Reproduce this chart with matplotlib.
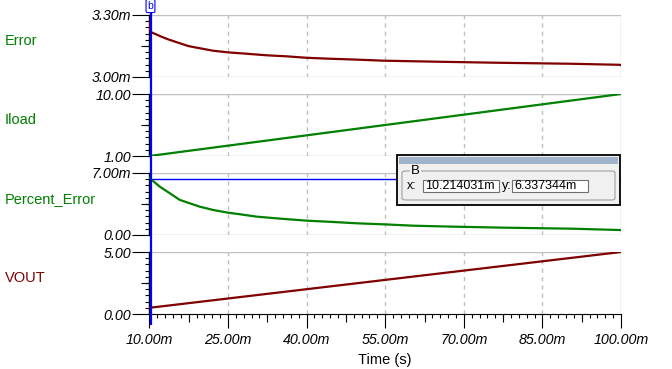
import matplotlib
matplotlib.use("Agg")
from matplotlib import pyplot as plt
from matplotlib.patches import Rectangle, FancyBboxPatch
from matplotlib.ticker import AutoMinorLocator

plt.rcParams['font.family'] = ['Liberation Sans', 'DejaVu Sans']

# data (time in ms)
t_err = [10, 10.2, 10.4, 12.3, 13.6, 14.9, 16.2, 17.4, 19.0, 22.2, 25.1, 27.3, 32.4,
         36.2, 40, 43.8, 49.6, 54.6, 64.8, 76.3, 90.6, 99.8, 100]
error_mv = [3.27, 3.222, 3.216, 3.195, 3.182, 3.171, 3.160, 3.150, 3.142, 3.127, 3.119,
            3.115, 3.105, 3.100, 3.093, 3.089, 3.084, 3.079, 3.074, 3.069, 3.064,
            3.059, 3.057]

t_lin = [10, 100]
iload = [1.0, 10.0]
vout = [0.5, 5.0]

t_pct = [10, 10.2, 12.0, 13.9, 15.8, 17.7, 19.6, 22.2, 25, 27.3, 30.5, 34.9, 40, 45.1,
         49.6, 55.3, 60.4, 68, 77.5, 90.9, 99.8, 100]
pct_m = [6.45, 6.34, 5.45, 4.71, 3.96, 3.58, 3.20, 2.82, 2.52, 2.34, 2.07, 1.85, 1.62,
         1.47, 1.32, 1.19, 1.05, 0.94, 0.83, 0.71, 0.56, 0.55]

xticks = [10, 25, 40, 55, 70, 85, 100]
xlabels = ['10.00m', '25.00m', '40.00m', '55.00m', '70.00m', '85.00m', '100.00m']

cursor_x = 10.214031
cursor_y = 6.337344

names = ['Error', 'Iload', 'Percent_Error', 'VOUT']
name_colors = ['#008000', '#008000', '#008000', '#800000']
ylims = [(3.0, 3.3), (1.0, 10.0), (0.0, 7.0), (0.0, 5.0)]
ylabels = [('3.00m', '3.30m'), ('1.00', '10.00'), ('0.00', '7.00m'), ('0.00', '5.00')]
series = [(t_err, error_mv, '#800000'), (t_lin, iload, '#008000'),
          (t_pct, pct_m, '#008000'), (t_lin, vout, '#800000')]

W, H = 672, 369
fig = plt.figure(figsize=(W / 100, H / 100), dpi=100)


def fx(x):
    return x / W


def fy(y):
    return 1 - y / H


left, right = 149.4, 621
tops = [15, 94, 173, 252]
ph = 62
grey = '#c0c0c0'

for i in range(4):
    top = tops[i]
    ax = fig.add_axes([fx(left), fy(top + ph), fx(right - left), ph / H])
    x, y, c = series[i]
    ax.plot(x, y, color=c, lw=1.6, zorder=3)
    ax.set_xlim(10, 100)
    ax.set_ylim(*ylims[i])
    for s in ['top', 'right', 'bottom']:
        ax.spines[s].set_visible(False)
    ax.spines['left'].set_color('black')
    ax.spines['left'].set_linewidth(1)
    ax.set_yticks(list(ylims[i]), labels=list(ylabels[i]))
    ax.yaxis.set_minor_locator(AutoMinorLocator(10))
    ax.tick_params(axis='y', which='major', length=12, width=0.8, pad=1,
                   labelsize=10.3, colors='black')
    ax.tick_params(axis='y', which='minor', length=3, width=0.8)
    for lab in ax.get_yticklabels():
        lab.set_fontstyle('italic')
    sec = ax.secondary_yaxis('left')
    sec.set_yticks([sum(ylims[i]) / 2])
    sec.tick_params(length=6, width=0.8, labelleft=False)
    sec.spines['left'].set_visible(False)

    ax.axhline(ylims[i][1], color=grey, lw=1, zorder=1)
    if i < 3:
        ax.axhline(ylims[i][0], color=grey, lw=1, zorder=1)
    for t in xticks[1:-1]:
        ax.axvline(t, color=grey, lw=1, ls=(0, (3, 3)), zorder=1)
    ax.axvline(xticks[-1], color=grey, lw=1, zorder=1)

    if i < 3:
        ax.set_xticks([])
    else:
        ax.spines['bottom'].set_visible(True)
        ax.spines['bottom'].set_color('black')
        ax.set_xticks(xticks, labels=xlabels)
        ax.xaxis.set_minor_locator(AutoMinorLocator(10))
        ax.tick_params(axis='x', which='major', length=10, width=0.8, pad=4, labelsize=10.3)
        ax.tick_params(axis='x', which='minor', length=3, width=0.8)
        for lab in ax.get_xticklabels():
            lab.set_fontstyle('italic')
        secx = ax.secondary_xaxis('bottom')
        secx.set_xticks([(a + b) / 2 for a, b in zip(xticks[:-1], xticks[1:])])
        secx.tick_params(length=6, width=0.8, labelbottom=False)
        secx.spines['bottom'].set_visible(False)
        ax.set_xlabel('Time (s)', fontsize=10.5, labelpad=4)
    if i == 2:
        ax.axhline(cursor_y, color='blue', lw=1, zorder=2)
    ax.patch.set_alpha(0)

    fig.text(fx(5), fy(top + 30), names[i], color=name_colors[i], fontsize=10.5,
             va='baseline', ha='left')

# cursor line across all panels
ov = fig.add_axes([fx(left), fy(325), fx(right - left), (325 - 9) / H])
ov.set_xlim(10, 100)
ov.axis('off')
ov.axvline(cursor_x, color='blue', lw=1.6)
fig.text(fx(150.5), fy(6), 'b', color='blue', fontsize=7.5, ha='center', va='center',
         bbox=dict(boxstyle='round,pad=0.15', fc='white', ec='blue', lw=0.8))

# cursor readout box
fig.add_artist(Rectangle((fx(397), fy(205)), fx(223), 50 / H, transform=fig.transFigure,
                         fc='#f0f0f0', ec='black', lw=1.3))
fig.add_artist(Rectangle((fx(399), fy(164)), fx(219), 7 / H, transform=fig.transFigure,
                         fc='#a0b4cc', ec='none'))
fig.add_artist(FancyBboxPatch((fx(402), fy(200)), fx(213), 29 / H, transform=fig.transFigure,
                              boxstyle='round,pad=0,rounding_size=0.005',
                              fc='none', ec='#a0a0a0', lw=0.8))
fig.text(fx(411), fy(171.5), 'B', fontsize=9.5, va='center', ha='left',
         bbox=dict(fc='#f0f0f0', ec='none', pad=0.5))
fig.text(fx(407), fy(185.7), 'x:', fontsize=9, va='center', ha='left')
fig.text(fx(502), fy(185.7), 'y:', fontsize=9, va='center', ha='left')
for x0, txt in [(423, '10.214031m'), (511.5, '6.337344m')]:
    fig.add_artist(Rectangle((fx(x0), fy(192)), fx(76), 12.5 / H, transform=fig.transFigure,
                             fc='white', ec='#707070', lw=0.8))
    fig.text(fx(x0 + 2.5), fy(185.7), txt, fontsize=9, va='center', ha='left')

fig.savefig('out.png', dpi=100)
